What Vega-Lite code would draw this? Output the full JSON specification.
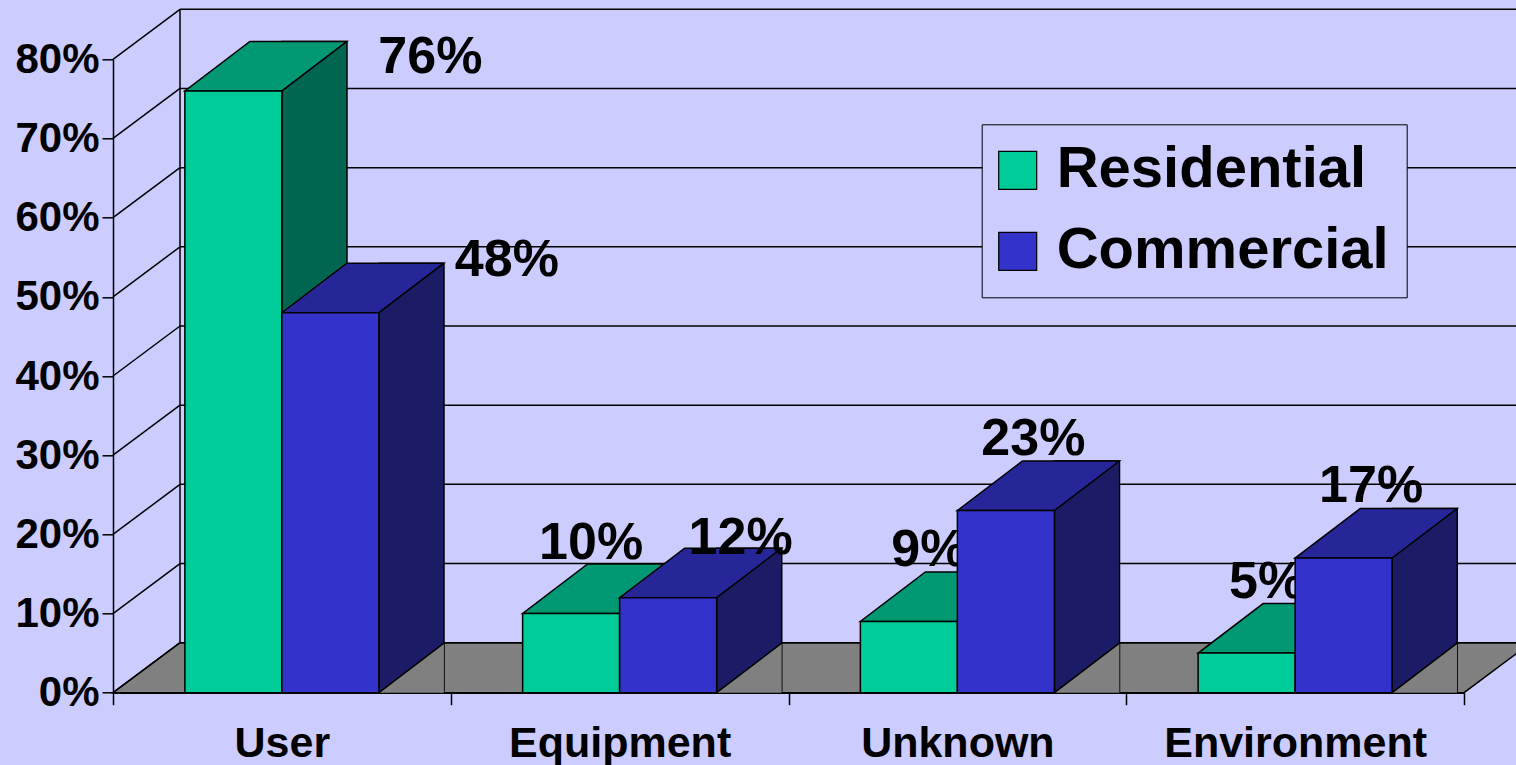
{
  "$schema": "https://vega.github.io/schema/vega-lite/v6.json",
  "width": 1351,
  "height": 633.4,
  "autosize": {"type": "none"},
  "padding": {"left": 113, "top": 59.3, "right": 52, "bottom": 72.3},
  "background": "#CCCCFF",
  "config": {
    "view": {"stroke": null},
    "font": "Liberation Sans",
    "axis": {"domainColor": "black", "domainWidth": 1.5, "tickColor": "black", "tickWidth": 1.5, "labelColor": "black", "labelFont": "Liberation Sans", "labelFontWeight": "bold", "grid": false},
    "axisY": {"tickSize": 11, "labelPadding": 3, "labelFontSize": 42},
    "axisX": {"tickSize": 12, "labelPadding": 18, "labelFontSize": 43, "labelAngle": 0, "labelLimit": 0, "tickBand": "extent", "tickExtra": true}
  },
  "resolve": {"scale": {"xOffset": "independent"}},
  "datasets": {
    "bars": [
      {"cause": "User", "series": "Residential", "value": 0.76},
      {"cause": "User", "series": "Commercial", "value": 0.48},
      {"cause": "Equipment", "series": "Residential", "value": 0.10},
      {"cause": "Equipment", "series": "Commercial", "value": 0.12},
      {"cause": "Unknown", "series": "Residential", "value": 0.09},
      {"cause": "Unknown", "series": "Commercial", "value": 0.23},
      {"cause": "Environment", "series": "Residential", "value": 0.05},
      {"cause": "Environment", "series": "Commercial", "value": 0.17}
    ],
    "ticks": [{"v": 0}, {"v": 0.1}, {"v": 0.2}, {"v": 0.3}, {"v": 0.4}, {"v": 0.5}, {"v": 0.6}, {"v": 0.7}, {"v": 0.8}],
    "one": [{"k": 1}]
  },
  "layer": [
    {
      "data": {"name": "one"},
      "mark": {"type": "point", "shape": "M0,0L1351,0L1418,-50L67,-50Z", "size": 4, "filled": true, "fill": "#808080", "stroke": "black", "strokeWidth": 1.5, "opacity": 1, "x": 0},
      "encoding": {"y": {"datum": 0, "type": "quantitative", "scale": {"domain": [0, 0.8], "nice": false}}}
    },
    {
      "data": {"name": "ticks"},
      "mark": {"type": "rule", "x": 67, "x2": 1418, "yOffset": -50, "color": "black", "strokeWidth": 1.5},
      "encoding": {"y": {"field": "v", "type": "quantitative", "title": null, "scale": {"domain": [0, 0.8], "nice": false}}}
    },
    {
      "data": {"name": "ticks"},
      "mark": {"type": "point", "shape": "M0,0L67,-50", "size": 4, "filled": false, "stroke": "black", "strokeWidth": 1.5, "opacity": 1, "x": 0},
      "encoding": {"y": {"field": "v", "type": "quantitative", "title": null, "scale": {"domain": [0, 0.8], "nice": false}}}
    },
    {
      "data": {"name": "one"},
      "mark": {"type": "rule", "x": 67, "yOffset": -50, "y2Offset": -50, "color": "black", "strokeWidth": 1.5},
      "encoding": {"y": {"datum": 0, "type": "quantitative"}, "y2": {"datum": 0.8}}
    },
    {
      "data": {"name": "bars"},
      "mark": {"type": "bar", "yOffset": -49.5, "stroke": "black", "strokeWidth": 1.5},
      "encoding": {
        "x": {"field": "cause", "type": "nominal", "sort": ["User", "Equipment", "Unknown", "Environment"], "scale": {"paddingInner": 0, "paddingOuter": 0}, "title": null},
        "xOffset": {"field": "series", "scale": {"type": "band", "domain": ["Residential", "Commercial"], "range": [169, 331], "paddingInner": 0.33, "paddingOuter": 0}},
        "y": {"field": "value", "type": "quantitative", "title": null, "scale": {"domain": [0, 0.8], "nice": false}},
        "y2": {"datum": 0},
        "fill": {"condition": {"test": "datum.series === 'Residential'", "value": "#006650"}, "value": "#1C1C66"}
      }
    },
    {
      "data": {"name": "bars"},
      "mark": {"type": "point", "shape": "M48.5,0L113.5,0L113.5,-49.5Z", "size": 4, "filled": true, "fill": "#808080", "strokeWidth": 0, "opacity": 1},
      "encoding": {
        "x": {"field": "cause", "type": "nominal", "sort": ["User", "Equipment", "Unknown", "Environment"], "title": null},
        "xOffset": {"field": "series", "scale": {"type": "band", "domain": ["Residential", "Commercial"], "paddingInner": 0, "paddingOuter": 0.741}},
        "y": {"datum": 0, "type": "quantitative"}
      }
    },
    {
      "data": {"name": "bars"},
      "mark": {"type": "point", "shape": "M48.5,0L113.5,-49.5", "size": 4, "filled": false, "stroke": "black", "strokeWidth": 1.5, "opacity": 1},
      "encoding": {
        "x": {"field": "cause", "type": "nominal", "sort": ["User", "Equipment", "Unknown", "Environment"], "title": null},
        "xOffset": {"field": "series", "scale": {"type": "band", "domain": ["Residential", "Commercial"], "paddingInner": 0, "paddingOuter": 0.741}},
        "y": {"datum": 0, "type": "quantitative"}
      }
    },
    {
      "data": {"name": "bars"},
      "mark": {"type": "point", "shape": "M-48.5,0L48.5,0L113.5,-49.5L16.5,-49.5Z", "size": 4, "filled": true, "stroke": "black", "strokeWidth": 1.5, "opacity": 1},
      "encoding": {
        "x": {"field": "cause", "type": "nominal", "sort": ["User", "Equipment", "Unknown", "Environment"], "title": null},
        "xOffset": {"field": "series", "scale": {"type": "band", "domain": ["Residential", "Commercial"], "paddingInner": 0, "paddingOuter": 0.741}},
        "y": {"field": "value", "type": "quantitative", "title": null},
        "fill": {"condition": {"test": "datum.series === 'Residential'", "value": "#009973"}, "value": "#262699"}
      }
    },
    {
      "data": {"name": "bars"},
      "transform": [{"filter": "datum.series === 'Residential'"}],
      "mark": {"type": "bar", "stroke": "black", "strokeWidth": 1.5},
      "encoding": {
        "x": {"field": "cause", "type": "nominal", "sort": ["User", "Equipment", "Unknown", "Environment"], "title": null},
        "xOffset": {"field": "series", "scale": {"type": "band", "domain": ["Residential", "Commercial"], "paddingInner": 0, "paddingOuter": 0.741}},
        "y": {"field": "value", "type": "quantitative", "title": null, "axis": {"values": [0, 0.1, 0.2, 0.3, 0.4, 0.5, 0.6, 0.7, 0.8], "format": ".0%"}},
        "y2": {"datum": 0},
        "fill": {"field": "series", "type": "nominal", "scale": {"domain": ["Residential", "Commercial"], "range": ["#00CC99", "#3333CC"]},
          "legend": {"orient": "none", "legendX": 868.7, "legendY": 65, "title": null, "symbolType": "square", "symbolSize": 1444, "symbolStrokeColor": "black", "symbolStrokeWidth": 1.2, "symbolOffset": -10, "labelFontSize": 58, "labelFont": "Liberation Sans", "labelFontWeight": "bold", "labelColor": "black", "labelLimit": 0, "labelOffset": 10, "rowPadding": 23, "padding": 17, "strokeColor": "black", "fillColor": "#CCCCFF"}}
      }
    },
    {
      "data": {"name": "bars"},
      "transform": [{"filter": "datum.series === 'Residential' && datum.cause !== 'User'"}],
      "mark": {"type": "text", "font": "Liberation Sans", "fontWeight": "bold", "fontSize": 52, "baseline": "alphabetic", "align": "center", "dx": 20, "dy": -55, "color": "black"},
      "encoding": {
        "x": {"field": "cause", "type": "nominal", "sort": ["User", "Equipment", "Unknown", "Environment"], "title": null},
        "xOffset": {"field": "series", "scale": {"type": "band", "domain": ["Residential", "Commercial"], "paddingInner": 0, "paddingOuter": 0.741}},
        "y": {"field": "value", "type": "quantitative", "title": null},
        "text": {"field": "value", "type": "quantitative", "format": ".0%"}
      }
    },
    {
      "data": {"name": "bars"},
      "transform": [{"filter": "datum.series === 'Residential' && datum.cause === 'User'"}],
      "mark": {"type": "text", "font": "Liberation Sans", "fontWeight": "bold", "fontSize": 52, "baseline": "alphabetic", "align": "center", "dx": 197, "dy": -18, "color": "black"},
      "encoding": {
        "x": {"field": "cause", "type": "nominal", "sort": ["User", "Equipment", "Unknown", "Environment"], "title": null},
        "xOffset": {"field": "series", "scale": {"type": "band", "domain": ["Residential", "Commercial"], "paddingInner": 0, "paddingOuter": 0.741}},
        "y": {"field": "value", "type": "quantitative", "title": null},
        "text": {"field": "value", "type": "quantitative", "format": ".0%"}
      }
    },
    {
      "data": {"name": "bars"},
      "transform": [{"filter": "datum.series === 'Commercial'"}],
      "mark": {"type": "bar", "stroke": "black", "strokeWidth": 1.5},
      "encoding": {
        "x": {"field": "cause", "type": "nominal", "sort": ["User", "Equipment", "Unknown", "Environment"], "title": null},
        "xOffset": {"field": "series", "scale": {"type": "band", "domain": ["Residential", "Commercial"], "paddingInner": 0, "paddingOuter": 0.741}},
        "y": {"field": "value", "type": "quantitative", "title": null},
        "y2": {"datum": 0},
        "fill": {"field": "series", "type": "nominal"}
      }
    },
    {
      "data": {"name": "bars"},
      "transform": [{"filter": "datum.series === 'Commercial' && (datum.cause === 'Unknown' || datum.cause === 'Environment')"}],
      "mark": {"type": "text", "font": "Liberation Sans", "fontWeight": "bold", "fontSize": 52, "baseline": "alphabetic", "align": "center", "dx": 27.5, "dy": -56, "color": "black"},
      "encoding": {
        "x": {"field": "cause", "type": "nominal", "sort": ["User", "Equipment", "Unknown", "Environment"], "title": null},
        "xOffset": {"field": "series", "scale": {"type": "band", "domain": ["Residential", "Commercial"], "paddingInner": 0, "paddingOuter": 0.741}},
        "y": {"field": "value", "type": "quantitative", "title": null},
        "text": {"field": "value", "type": "quantitative", "format": ".0%"}
      }
    },
    {
      "data": {"name": "bars"},
      "transform": [{"filter": "datum.series === 'Commercial' && datum.cause === 'Equipment'"}],
      "mark": {"type": "text", "font": "Liberation Sans", "fontWeight": "bold", "fontSize": 52, "baseline": "alphabetic", "align": "center", "dx": 72.5, "dy": -44, "color": "black"},
      "encoding": {
        "x": {"field": "cause", "type": "nominal", "sort": ["User", "Equipment", "Unknown", "Environment"], "title": null},
        "xOffset": {"field": "series", "scale": {"type": "band", "domain": ["Residential", "Commercial"], "paddingInner": 0, "paddingOuter": 0.741}},
        "y": {"field": "value", "type": "quantitative", "title": null},
        "text": {"field": "value", "type": "quantitative", "format": ".0%"}
      }
    },
    {
      "data": {"name": "bars"},
      "transform": [{"filter": "datum.series === 'Commercial' && datum.cause === 'User'"}],
      "mark": {"type": "text", "font": "Liberation Sans", "fontWeight": "bold", "fontSize": 52, "baseline": "alphabetic", "align": "center", "dx": 176.5, "dy": -36.5, "color": "black"},
      "encoding": {
        "x": {"field": "cause", "type": "nominal", "sort": ["User", "Equipment", "Unknown", "Environment"], "title": null},
        "xOffset": {"field": "series", "scale": {"type": "band", "domain": ["Residential", "Commercial"], "paddingInner": 0, "paddingOuter": 0.741}},
        "y": {"field": "value", "type": "quantitative", "title": null},
        "text": {"field": "value", "type": "quantitative", "format": ".0%"}
      }
    }
  ]
}
